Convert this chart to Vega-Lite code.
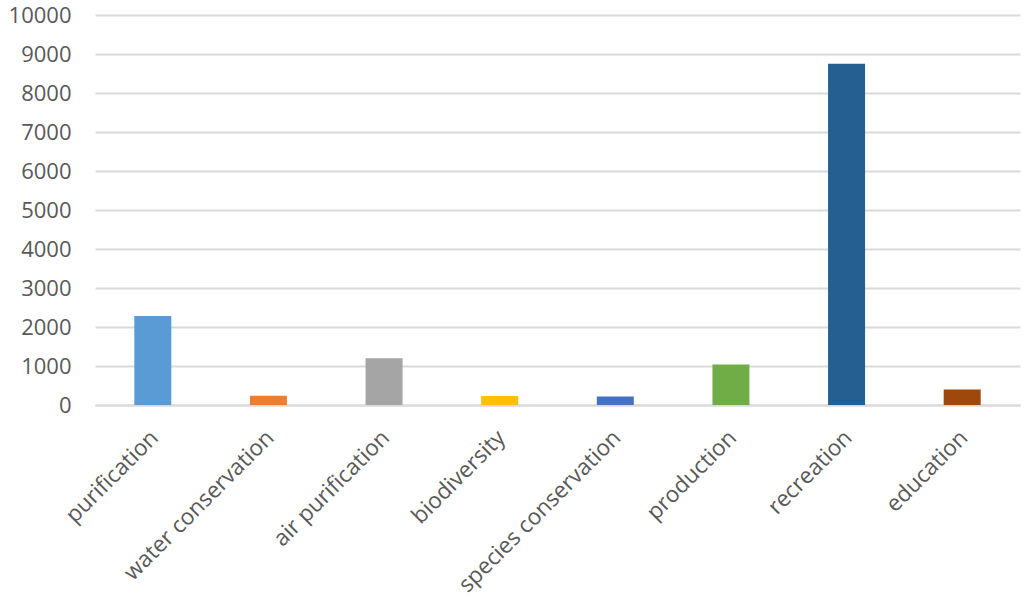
{
  "$schema": "https://vega.github.io/schema/vega-lite/v6.json",
  "autosize": "none",
  "width": 925,
  "height": 390,
  "padding": {"left": 95, "top": 15, "right": 4, "bottom": 198},
  "background": "white",
  "config": {"view": {"stroke": null}, "font": "Open Sans"},
  "data": {"values": [
    {"service": "purification", "value": 2280},
    {"service": "water conservation", "value": 240},
    {"service": "air purification", "value": 1200},
    {"service": "biodiversity", "value": 230},
    {"service": "species conservation", "value": 220},
    {"service": "production", "value": 1040},
    {"service": "recreation", "value": 8750},
    {"service": "education", "value": 400}
  ]},
  "mark": {"type": "bar"},
  "encoding": {
    "x": {"field": "service", "type": "nominal", "sort": null,
      "scale": {"paddingInner": 0.68, "paddingOuter": 0.34},
      "axis": {"title": null, "labelAngle": -45, "labelFontSize": 22.5, "labelColor": "#595959", "domainColor": "#d9d9d9", "domainWidth": 2, "ticks": false, "labelPadding": 21, "labelOffset": -6, "labelLimit": 0, "labelOverlap": false, "labelFont": "Open Sans"}},
    "y": {"field": "value", "type": "quantitative",
      "scale": {"domain": [0, 10000], "nice": false},
      "axis": {"title": null, "values": [0,1000,2000,3000,4000,5000,6000,7000,8000,9000,10000], "format": "d", "labelOverlap": false, "labelFontSize": 22, "labelColor": "#595959", "domain": false, "ticks": false, "labelPadding": 24, "gridColor": "#d9d9d9", "gridWidth": 2, "labelFont": "Open Sans"}},
    "color": {"field": "service", "type": "nominal", "sort": null, "legend": null,
      "scale": {"domain": ["purification","water conservation","air purification","biodiversity","species conservation","production","recreation","education"],
        "range": ["#5B9BD5","#ED7D31","#A5A5A5","#FFC000","#4472C4","#70AD47","#255E91","#9E480E"]}}
  }
}
